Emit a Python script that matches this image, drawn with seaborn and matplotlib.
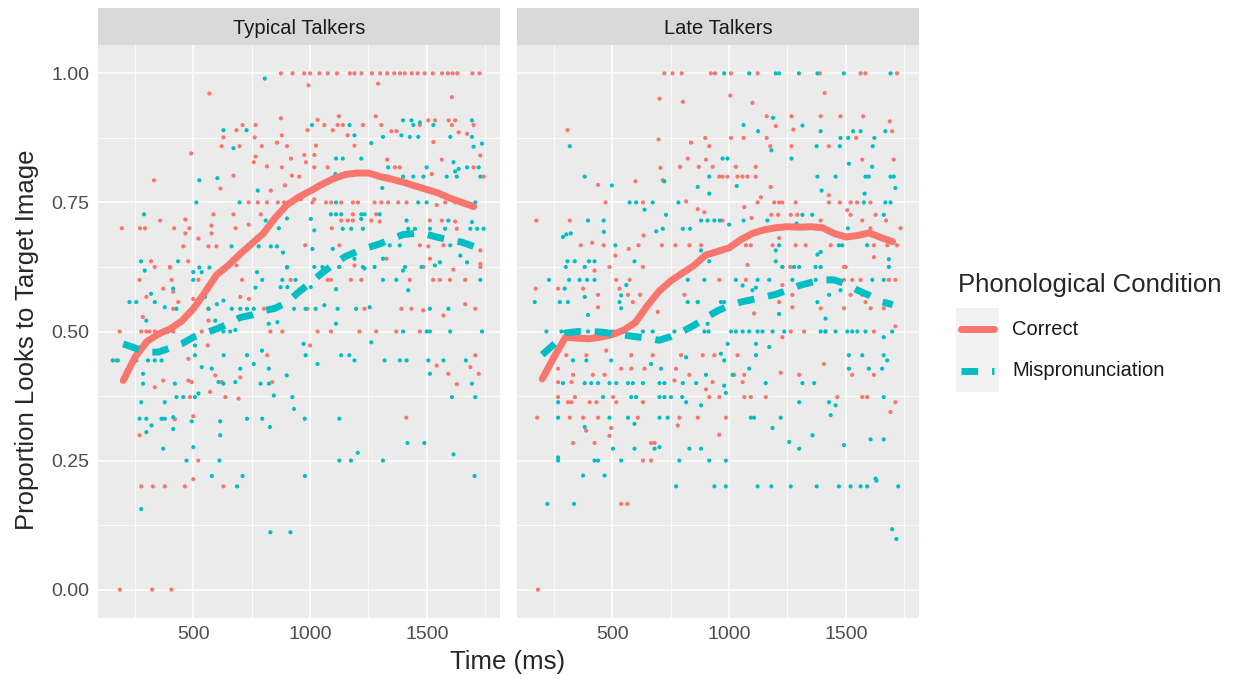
import matplotlib
matplotlib.use("Agg")
import matplotlib.pyplot as plt
import seaborn as sns
import pandas as pd
from matplotlib.lines import Line2D
from matplotlib.patches import Rectangle

# ---- data ------------------------------------------------------------------
groups = ["Typical Talkers", "Late Talkers"]
conditions = ["Correct", "Mispronunciation"]
palette = {"Correct": "#F8766D", "Mispronunciation": "#00BFC4"}

# mean curves (time bin in ms -> proportion)
bin_times = [200, 250, 300, 350, 400, 450, 500, 550, 600, 650, 700, 750, 800, 850, 900, 950,
             1000, 1050, 1100, 1150, 1200, 1250, 1300, 1350, 1400, 1450, 1500, 1550, 1600, 1650, 1700]
typical_correct_mean = [0.405, 0.45, 0.48, 0.495, 0.505, 0.52, 0.544, 0.576, 0.61, 0.628, 0.65, 0.67,
                        0.69, 0.72, 0.745, 0.76, 0.772, 0.785, 0.796, 0.804, 0.807, 0.807, 0.80, 0.795,
                        0.789, 0.782, 0.775, 0.768, 0.758, 0.75, 0.742]
typical_mis_mean = [0.476, 0.468, 0.46, 0.46, 0.468, 0.476, 0.489, 0.497, 0.505, 0.515, 0.527, 0.532,
                    0.54, 0.545, 0.556, 0.576, 0.594, 0.613, 0.63, 0.645, 0.655, 0.663, 0.67, 0.68,
                    0.688, 0.69, 0.688, 0.682, 0.677, 0.673, 0.665]
late_correct_mean = [0.408, 0.45, 0.489, 0.487, 0.486, 0.489, 0.494, 0.503, 0.518, 0.55, 0.578, 0.598,
                     0.613, 0.628, 0.648, 0.655, 0.662, 0.678, 0.69, 0.697, 0.701, 0.703, 0.702, 0.703,
                     0.701, 0.69, 0.683, 0.686, 0.691, 0.682, 0.674]
late_mis_mean = [0.455, 0.475, 0.497, 0.5, 0.5, 0.499, 0.496, 0.493, 0.49, 0.487, 0.483, 0.49, 0.5,
                 0.512, 0.527, 0.54, 0.55, 0.557, 0.562, 0.567, 0.572, 0.58, 0.589, 0.595, 0.6, 0.6,
                 0.592, 0.58, 0.57, 0.558, 0.552]

# individual observations (time ms, proportion)
typical_correct_top = [875, 925, 975, 1000, 1040, 1075, 1115, 1170, 1190, 1220, 1265, 1300, 1330,
                       1360, 1385, 1405, 1435, 1460, 1490, 1525, 1565, 1590, 1610, 1630, 1695, 1725]
typical_correct_pts = [
    (569, .961), (875, .913), (711, .90), (685, .89), (767, .90), (879, .88), (629, .876), (763, .876),
    (621, .859), (698, .859), (793, .859), (858, .866), (901, .859), (491, .845), (767, .839), (759, .828),
    (815, .82), (879, .818), (918, .835), (332, .793), (672, .802), (616, .777), (832, .773), (892, .783),
    (922, .802), (737, .75), (776, .75), (815, .75), (862, .75), (888, .75),
    (358, .715), (466, .717), (586, .727), (672, .727), (789, .727), (194, .70), (272, .70), (293, .70),
    (418, .70), (483, .70), (578, .705), (681, .70), (737, .707), (466, .69), (578, .69), (522, .68),
    (457, .665), (565, .665), (599, .665), (319, .636), (401, .624), (478, .636), (685, .628),
    (993, .977), (1291, .98), (1607, .954), (1123, .917), (1281, .917), (1506, .909), (1535, .909),
    (1593, .909), (1621, .909), (1032, .91), (1061, .9), (1118, .9), (1140, .9), (1226, .9), (1305, .9),
    (1470, .9), (1607, .9), (1700, .9), (989, .89), (1097, .89), (1161, .88), (1348, .888), (1370, .888),
    (1636, .886), (1672, .883), (975, .842), (1018, .842), (1025, .86), (982, .828), (1018, .818),
    (1075, .818), (1190, .86), (1330, .833), (1528, .867), (1564, .833), (1729, .841), (1363, .818),
    (1384, .818), (1521, .805), (1700, .818), (953, .8), (1743, .8), (1542, .745),
    (960, .756), (1010, .75), (1018, .756), (1068, .75), (1090, .75), (1133, .75), (1183, .75),
    (1205, .75), (1276, .75), (1305, .75), (1334, .75), (1377, .75), (1413, .75), (1578, .75), (1621, .75),
    (1093, .7), (1133, .715), (1161, .715), (1183, .715), (1183, .727), (1283, .727), (1262, .715),
    (1298, .713), (1513, .715), (1564, .715), (1621, .713), (1628, .699),
    (979, .667), (1125, .667), (1470, .667), (1506, .665), (1571, .667), (1729, .657), (1513, .641),
    (1729, .631), (1327, .641), (1125, .625), (1190, .628),
    (335, .625), (400, .625), (1485, .625), (1613, .62), (1729, .625),
    (270, .6), (371, .583), (407, .6), (522, .6), (709, .6), (917, .6), (1075, .6), (1089, .6), (1175, .6),
    (1219, .6), (1427, .6), (1527, .6), (1556, .6), (1599, .6), (1664, .6),
    (299, .567), (414, .577), (436, .557), (500, .563), (565, .544), (701, .567), (738, .563),
    (414, .544), (802, .544), (989, .544), (1233, .544), (1391, .544), (1434, .544), (1484, .541),
    (1664, .553), (1707, .544), (284, .528), (565, .521), (1571, .531),
    (184, .5), (277, .5), (299, .5), (313, .5), (335, .5), (371, .5), (414, .5), (536, .5), (830, .5),
    (881, .5), (1032, .5), (1089, .5), (1211, .5), (1283, .5), (1369, .5), (1470, .5),
    (562, .473), (1000, .473), (170, .444), (479, .447), (816, .454), (1707, .454), (1542, .434),
    (1592, .418), (1686, .431), (1722, .418), (1628, .398),
    (335, .392), (371, .405), (479, .405), (493, .402), (622, .402), (701, .411), (838, .402), (594, .415),
    (572, .383), (486, .373), (637, .373), (694, .37), (421, .33), (500, .336), (1412, .333),
    (270, .299), (521, .25), (500, .214), (277, .2), (327, .2), (378, .2), (464, .2), (629, .2),
    (186, 0), (324, 0), (406, 0),
]
typical_mis_pts = [
    (806, .99), (629, .89), (728, .89), (672, .855), (526, .793), (603, .797), (776, .773), (513, .75),
    (698, .75), (289, .727), (810, .715), (901, .719), (866, .70), (664, .665), (780, .665), (832, .665),
    (858, .665), (884, .653), (276, .636), (435, .636), (526, .624), (569, .624), (901, .624),
    (1008, .9), (1169, .9), (1442, .9), (1528, .9), (1398, .909), (1434, .909), (1470, .905), (1693, .909),
    (1190, .88), (1262, .865), (1312, .877), (1391, .88), (1427, .877), (1463, .877), (1600, .877),
    (1693, .877), (1700, .858), (1736, .864), (1111, .835), (1140, .835), (1219, .835), (1614, .828),
    (1636, .815), (1672, .818), (1334, .818), (1499, .818), (1621, .81), (1722, .818), (1108, .805),
    (1334, .8), (1398, .8), (1442, .8), (1485, .8), (1585, .8), (1628, .8), (1729, .8), (1309, .778),
    (1111, .75), (1463, .75), (1499, .75), (1707, .75),
    (1003, .718), (1018, .696), (1089, .727), (1111, .727), (1133, .727), (1219, .727), (1233, .727),
    (1298, .727), (1219, .718), (1413, .715), (1592, .715), (1693, .712), (1140, .699), (1176, .699),
    (1226, .699), (1420, .699), (1449, .699), (1513, .699), (1578, .699), (1686, .699), (1715, .699),
    (1743, .699), (1010, .66), (1097, .66), (1341, .667), (1384, .667), (1600, .667), (1190, .641),
    (1556, .634), (1643, .647), (1672, .634), (1018, .625), (1053, .625), (1226, .625), (1276, .625),
    (1312, .641), (1477, .625), (1406, .625),
    (292, .618), (500, .615), (536, .615), (773, .615), (902, .625), (1125, .625), (1233, .622),
    (1398, .618), (1534, .628), (500, .6), (414, .583), (550, .567), (795, .6), (881, .6), (938, .6),
    (1312, .6), (1369, .6), (1420, .58), (1729, .6), (319, .573), (335, .557), (629, .56), (766, .585),
    (874, .586), (903, .586), (1003, .586), (1111, .582),
    (227, .557), (256, .557), (378, .547), (428, .544), (514, .557), (565, .544), (601, .553), (665, .544),
    (701, .544), (730, .544), (759, .544), (931, .544), (981, .544), (1024, .544), (1061, .551),
    (1118, .544), (1197, .544), (1255, .547), (1513, .544), (1592, .544),
    (299, .521), (594, .521), (823, .515), (860, .518), (1111, .515),
    (392, .5), (629, .5), (658, .5), (680, .503), (1398, .5), (1499, .5), (1513, .5), (1600, .5), (1736, .5),
    (972, .476), (507, .473), (1262, .479),
    (155, .444), (177, .444), (256, .444), (306, .444), (335, .444), (364, .444), (507, .454), (630, .454),
    (730, .454), (794, .463), (981, .454), (1032, .437), (1133, .454), (1168, .454), (1190, .444),
    (1319, .444), (1384, .444), (1413, .444), (1506, .444), (1571, .444), (1667, .444), (1513, .418),
    (1693, .399), (536, .431), (579, .428), (701, .428), (759, .437), (823, .428), (900, .415), (285, .418),
    (285, .399), (421, .399), (522, .38), (608, .402), (680, .402), (788, .399), (824, .399), (629, .399),
    (428, .373), (457, .373), (507, .373), (845, .376), (924, .373), (1607, .373), (1707, .373),
    (277, .363), (378, .363), (931, .35),
    (270, .331), (299, .331), (364, .331), (378, .331), (414, .334), (493, .326), (615, .326), (730, .331),
    (795, .331), (977, .331), (1125, .331), (299, .305), (321, .318), (414, .311), (615, .299), (828, .315),
    (371, .273), (500, .276), (1417, .284), (1489, .284), (1614, .262), (1204, .265),
    (471, .25), (612, .25), (1125, .25), (1175, .25), (1312, .25), (579, .22), (711, .22), (978, .22),
    (1704, .22), (687, .2), (277, .156), (830, .111), (916, .111),
]
late_correct_top = [723, 758, 797, 922, 940, 1008, 1122, 1389, 1563, 1584, 1719]
late_correct_pts = [
    (702, .951), (802, .945), (308, .89), (698, .872), (837, .866), (898, .875), (915, .859), (823, .835),
    (790, .819), (870, .819), (901, .833), (930, .819), (706, .817), (716, .793), (599, .791), (439, .784),
    (958, .8), (471, .75), (631, .75), (816, .752), (866, .737), (894, .731), (175, .715), (318, .715),
    (634, .686), (365, .667), (414, .672), (463, .667), (570, .66), (612, .667), (712, .667), (770, .667),
    (830, .667), (880, .667), (513, .647), (488, .625), (631, .625),
    (1005, .957), (1100, .943), (1409, .962), (1161, .917), (1267, .917), (1392, .917), (1477, .917),
    (1574, .917), (1688, .907), (1200, .898), (1275, .891), (1698, .888),
    (1008, .875), (1062, .875), (1161, .875), (1544, .875), (1176, .859), (1267, .859), (1427, .859),
    (1029, .819), (1114, .819), (1570, .833), (1705, .833),
    (972, .8), (993, .8), (1036, .8), (1057, .8), (1079, .8), (1114, .8), (1178, .78), (1136, .76),
    (1427, .764), (1122, .75), (1193, .75), (1214, .75), (1228, .75), (1285, .75), (1427, .75), (1474, .75),
    (1520, .75), (1548, .75), (1605, .75),
    (1065, .741), (972, .715), (1096, .72), (1181, .726), (1210, .726), (1264, .726), (1292, .726),
    (1506, .735), (1520, .726), (1570, .715), (1627, .726), (1672, .715), (1605, .7), (1734, .7), (1392, .715),
    (1072, .667), (1093, .667), (1186, .667), (1285, .667), (1328, .667), (1435, .667), (1620, .667),
    (1677, .667), (1719, .667), (1214, .681), (1620, .644), (1079, .629), (1228, .625), (1262, .625),
    (1499, .625), (424, .618), (517, .6), (574, .6), (958, .6), (1072, .6), (1492, .6), (1527, .6), (1563, .6),
    (1684, .6), (1712, .6), (1492, .625),
    (172, .583), (268, .583), (375, .583), (531, .583), (1228, .59),
    (439, .571), (567, .571), (619, .571), (809, .571), (1271, .571), (1520, .571), (1570, .571),
    (588, .557), (866, .557), (1214, .557), (1584, .557), (439, .547), (1271, .547), (1392, .545),
    (1492, .545), (1606, .545), (1662, .545), (695, .538), (1107, .535),
    (1264, .5), (1321, .5), (1412, .5), (1620, .5), (1712, .51), (1228, .489),
    (303, .454), (389, .454), (474, .463), (581, .454), (673, .454), (794, .454), (887, .454), (937, .454),
    (1036, .454), (1406, .437),
    (268, .428), (332, .416), (417, .416), (467, .416), (538, .428), (581, .428), (638, .428), (773, .428),
    (830, .416), (1022, .416), (1065, .416), (1221, .42), (1300, .416), (1527, .416), (1620, .416),
    (268, .402), (325, .402), (766, .405), (929, .402), (1058, .402), (901, .388),
    (268, .373), (310, .363), (325, .363), (340, .373), (403, .363), (432, .363), (503, .373), (517, .363),
    (631, .363), (915, .373), (958, .373), (1065, .373), (1093, .373), (1157, .373), (1463, .373),
    (1570, .373), (1591, .373), (1712, .363), (1691, .344),
    (178, .333), (318, .333), (375, .333), (439, .333), (609, .333), (787, .333), (866, .333), (986, .333),
    (780, .318), (958, .3), (495, .313), (388, .308),
    (332, .284), (424, .284), (488, .298), (666, .284), (681, .284),
    (631, .25), (666, .25), (538, .166), (564, .166), (182, 0),
]
late_mis_top = [979, 1086, 1200, 1214, 1299, 1378, 1491, 1691]
late_mis_pts = [
    (318, .859), (382, .8), (498, .783), (723, .791), (866, .78), (915, .767), (915, .8),
    (574, .75), (602, .75), (673, .75), (783, .75), (638, .736), (730, .726),
    (396, .715), (463, .715), (880, .715), (908, .715), (937, .715), (960, .715), (464, .693), (289, .683),
    (303, .688), (322, .69), (716, .699), (688, .694), (802, .699), (833, .699),
    (513, .667), (880, .657), (308, .636), (339, .636), (400, .636), (424, .636), (595, .636), (301, .625),
    (382, .625), (915, .636),
    (1188, .914), (1062, .9), (1124, .888), (1314, .899), (1392, .888), (1531, .888), (1563, .888),
    (1669, .888), (1477, .875), (1510, .875), (1622, .875), (1181, .851), (1375, .859), (1474, .859),
    (1615, .859), (972, .835), (993, .835), (1267, .835), (1513, .825), (1612, .819),
    (1378, .8), (1456, .8), (1584, .8), (1598, .8), (1691, .8), (1705, .8), (1033, .782), (1712, .778),
    (1396, .773), (1580, .767), (1577, .75), (1669, .75), (1691, .75),
    (1000, .707), (1062, .715), (1164, .715), (1314, .726), (1356, .726), (1662, .726), (1509, .7),
    (1289, .709), (1328, .7),
    (1214, .667), (1470, .667), (1484, .667), (1591, .667), (1200, .657), (1378, .649), (1392, .654),
    (1200, .636), (1684, .64), (1278, .625), (1370, .625), (1392, .625), (1684, .625), (1228, .625),
    (1300, .625),
    (229, .6), (315, .6), (360, .6), (392, .6), (424, .6), (823, .6), (894, .6), (1029, .6), (1122, .6),
    (1172, .6), (1271, .6), (1371, .6), (1613, .6), (1662, .6),
    (560, .59), (296, .583), (382, .567), (538, .57), (1058, .589), (1100, .58), (1115, .585), (1428, .571),
    (1477, .58),
    (168, .557), (275, .557), (310, .557), (531, .557), (538, .545), (823, .557), (866, .557), (965, .557),
    (979, .557), (1086, .557), (1378, .557),
    (396, .532), (908, .515), (1214, .534), (1413, .525),
    (218, .5), (282, .5), (332, .5), (396, .5), (503, .5), (631, .5), (673, .5), (766, .5), (894, .5),
    (912, .5), (1008, .5), (1029, .5), (1058, .5), (1086, .5), (1122, .5), (1143, .5), (1186, .5), (1236, .5),
    (1392, .5), (1413, .5), (1456, .5), (1506, .5), (1527, .5), (1549, .5), (1584, .5), (1698, .5),
    (1662, .489), (1115, .476), (1172, .47), (994, .476),
    (332, .444), (389, .444), (495, .444), (816, .45), (965, .457), (1115, .454), (1513, .454), (1570, .454),
    (1662, .454), (1677, .444), (979, .444),
    (666, .437), (709, .428), (901, .416), (1086, .428), (1513, .428), (1598, .428), (1655, .428),
    (289, .4), (382, .4), (410, .4), (439, .4), (488, .4), (517, .4), (567, .4), (588, .4), (631, .4),
    (702, .4), (723, .4), (802, .4), (859, .4), (1157, .4), (1314, .4), (1364, .4), (979, .395), (1015, .416),
    (268, .363), (460, .373), (581, .373), (602, .373), (702, .373), (723, .373), (751, .373), (799, .373),
    (816, .363), (880, .357), (986, .381), (1300, .363), (1428, .363), (1456, .357), (1662, .373),
    (268, .333), (488, .333), (567, .333), (702, .333), (737, .333), (1093, .333), (1107, .333), (1221, .333),
    (1435, .338), (382, .315), (595, .321), (1186, .313),
    (702, .276), (503, .273), (595, .273), (681, .273), (830, .273), (880, .273), (1257, .286), (1300, .273),
    (1357, .299), (1492, .28), (1606, .291), (1662, .291),
    (268, .25), (424, .25), (439, .25), (538, .25), (787, .25), (915, .25), (986, .25), (268, .256),
    (375, .221), (467, .221), (1627, .215),
    (773, .2), (937, .2), (986, .2), (1122, .2), (1181, .2), (1264, .2), (1375, .2), (1470, .2), (1520, .2),
    (1563, .2), (1591, .2), (1724, .2), (1631, .211),
    (222, .166), (336, .166), (1698, .117), (1716, .098),
]

# ---- tidy tables -------------------------------------------------------------
def rows(group, cond, pts, top):
    out = [(group, cond, t, v) for t, v in pts]
    out += [(group, cond, t, 1.0) for t in top]
    return out

points = pd.DataFrame(
    rows("Typical Talkers", "Correct", typical_correct_pts, typical_correct_top)
    + rows("Typical Talkers", "Mispronunciation", typical_mis_pts, [])
    + rows("Late Talkers", "Correct", late_correct_pts, late_correct_top)
    + rows("Late Talkers", "Mispronunciation", late_mis_pts, late_mis_top),
    columns=["group", "condition", "time", "prop"],
)

means = pd.concat([
    pd.DataFrame({"group": "Typical Talkers", "condition": "Correct", "time": bin_times, "prop": typical_correct_mean}),
    pd.DataFrame({"group": "Typical Talkers", "condition": "Mispronunciation", "time": bin_times, "prop": typical_mis_mean}),
    pd.DataFrame({"group": "Late Talkers", "condition": "Correct", "time": bin_times, "prop": late_correct_mean}),
    pd.DataFrame({"group": "Late Talkers", "condition": "Mispronunciation", "time": bin_times, "prop": late_mis_mean}),
])

# ---- figure --------------------------------------------------------------------
sns.set_theme(style="white")
plt.rcParams["font.family"] = ["Liberation Sans", "DejaVu Sans"]

W, H = 1233, 679
fig = plt.figure(figsize=(W / 100, H / 100), dpi=100)

panel_x = [98, 517]
panel_w = 402
for i, g in enumerate(groups):
    ax = fig.add_axes([panel_x[i] / W, 1 - 618 / H, panel_w / W, 573 / H])
    ax.set_facecolor("#EBEBEB")
    ax.set_axisbelow(True)

    sns.scatterplot(data=points[points.group == g], x="time", y="prop", hue="condition",
                    hue_order=conditions, palette=palette, s=9, linewidth=0,
                    legend=False, ax=ax)
    sns.lineplot(data=means[means.group == g], x="time", y="prop", hue="condition",
                 style="condition", hue_order=conditions, style_order=conditions,
                 dashes={"Correct": "", "Mispronunciation": (2.4, 2.0)},
                 palette=palette, linewidth=5, legend=False, ax=ax)

    ax.set_xlim(92, 1813)
    ax.set_ylim(-0.055, 1.055)
    ax.set_xticks([500, 1000, 1500])
    ax.set_xticks([250, 750, 1250, 1750], minor=True)
    ax.set_yticks([0, 0.25, 0.5, 0.75, 1.0])
    ax.set_yticks([0.125, 0.375, 0.625, 0.875], minor=True)
    ax.set_yticklabels(["0.00", "0.25", "0.50", "0.75", "1.00"])
    ax.grid(which="major", color="white", linewidth=1.1)
    ax.grid(which="minor", color="white", linewidth=0.55)
    for s in ax.spines.values():
        s.set_visible(False)
    ax.tick_params(which="major", length=3, width=0.8, color="#333333",
                   labelcolor="#4D4D4D", labelsize=14, pad=3)
    ax.tick_params(which="minor", length=0)
    ax.set_xlabel("")
    ax.set_ylabel("")
    if i == 1:
        ax.tick_params(axis="y", which="major", length=0, labelleft=False)

    # facet strip
    strip = fig.add_axes([panel_x[i] / W, 1 - 45 / H, panel_w / W, 37 / H])
    strip.set_facecolor("#D9D9D9")
    strip.set_xticks([])
    strip.set_yticks([])
    for s in strip.spines.values():
        s.set_visible(False)
    strip.text(0.5, 0.44, g, ha="center", va="center", fontsize=14.5, color="#1A1A1A",
               transform=strip.transAxes)

fig.text(508 / W, 1 - 662 / H, "Time (ms)", ha="center", va="center", fontsize=18.5)
fig.text(27 / W, 1 - 340 / H, "Proportion Looks to Target Image", ha="center", va="center",
         rotation=90, fontsize=18.5)

# legend
fig.text(958 / W, 1 - 285 / H, "Phonological Condition", ha="left", va="center", fontsize=18.5)
key_y = [329, 371]
for cond, y in zip(conditions, key_y):
    fig.add_artist(Rectangle((956 / W, 1 - (y + 21) / H), 43 / W, 42 / H,
                             transform=fig.transFigure, facecolor="#F2F2F2", edgecolor="none"))
    ls = "-" if cond == "Correct" else (0, (2.4, 2.0))
    fig.add_artist(Line2D([961 / W, 994 / W], [1 - y / H, 1 - y / H], transform=fig.transFigure,
                          color=palette[cond], linewidth=5, linestyle=ls))
    fig.text(1012 / W, 1 - y / H, cond, ha="left", va="center", fontsize=14.5, color="#1A1A1A")

fig.savefig("out.png", dpi=100)
